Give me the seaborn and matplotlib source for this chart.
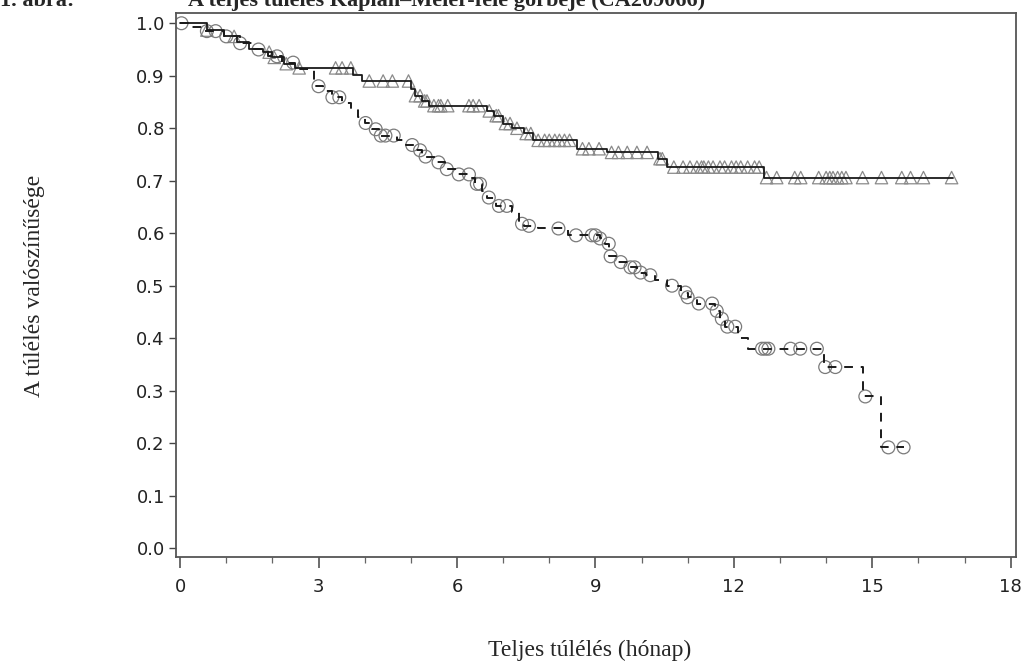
import numpy as np
import pandas as pd
import matplotlib
matplotlib.use("Agg")
import matplotlib.pyplot as plt
import seaborn as sns
from matplotlib.ticker import MultipleLocator

# upper curve (solid, triangles): step times and survival
upper_t = [0, 0.58, 0.95, 1.24, 1.5, 1.8, 2.0, 2.25, 2.5, 3.75, 3.95, 5.0, 5.1, 5.25, 5.4,
           6.65, 6.8, 7.0, 7.2, 7.45, 7.65, 8.6, 9.25, 10.35, 10.55, 12.65, 16.75]
upper_s = [1.0, 0.987, 0.975, 0.964, 0.951, 0.945, 0.935, 0.923, 0.915, 0.901, 0.89, 0.875, 0.862, 0.852, 0.843,
           0.833, 0.824, 0.809, 0.80, 0.79, 0.777, 0.761, 0.754, 0.742, 0.726, 0.706, 0.706]
upper_cens = [0.58, 1.17, 1.93, 2.04, 2.3, 2.58, 3.37, 3.51, 3.7, 4.1, 4.4, 4.6, 4.95,
              5.1, 5.2, 5.3, 5.35, 5.5, 5.6, 5.65, 5.8, 6.26, 6.35, 6.48, 6.7, 6.85, 6.9,
              7.05, 7.15, 7.3, 7.5, 7.6, 7.76, 7.9, 8.0, 8.12, 8.22, 8.33, 8.44,
              8.72, 8.86, 9.08, 9.35, 9.5, 9.69, 9.9, 10.12, 10.4, 10.45,
              10.7, 10.9, 11.05, 11.2, 11.3, 11.35, 11.45, 11.55, 11.7, 11.8, 11.95, 12.05,
              12.15, 12.3, 12.45, 12.55, 12.71, 12.93, 13.32, 13.45, 13.84, 14.0, 14.08,
              14.15, 14.25, 14.34, 14.43, 14.79, 15.2, 15.64, 15.83, 16.11, 16.72]

# lower curve (dashed, circles)
lower_t = [0, 0.2, 0.55, 0.95, 1.3, 1.6, 1.9, 2.2, 2.5, 2.9, 3.1, 3.3, 3.5, 3.7, 3.85, 4.0,
           4.15, 4.3, 4.7, 4.9, 5.1, 5.25, 5.55, 5.75, 6.0, 6.3, 6.4, 6.55, 6.65, 6.85,
           7.2, 7.35, 7.45, 7.75, 8.4, 9.1, 9.2, 9.3, 9.45, 9.7, 9.9, 10.1, 10.3, 10.55,
           10.85, 11.0, 11.2, 11.6, 11.7, 11.8, 12.1, 12.3, 13.95, 14.8, 15.2, 15.68]
lower_s = [1.0, 0.992, 0.985, 0.975, 0.962, 0.95, 0.937, 0.925, 0.912, 0.88, 0.87, 0.859, 0.848, 0.836, 0.822, 0.81,
           0.798, 0.786, 0.778, 0.768, 0.758, 0.746, 0.735, 0.722, 0.712, 0.705, 0.694, 0.68, 0.668, 0.652,
           0.64, 0.618, 0.614, 0.609, 0.596, 0.59, 0.58, 0.556, 0.545, 0.535, 0.525, 0.52, 0.51, 0.50,
           0.487, 0.478, 0.466, 0.452, 0.437, 0.422, 0.40, 0.38, 0.345, 0.289, 0.192, 0.192]
lower_cens = [0.03, 0.58, 0.77, 1.0, 1.3, 1.7, 2.1, 2.45, 3.0, 3.3, 3.45, 4.02, 4.24, 4.35, 4.45, 4.63,
              5.03, 5.2, 5.32, 5.6, 5.78, 6.04, 6.26, 6.43, 6.5, 6.69, 6.91, 7.08, 7.41, 7.56,
              8.2, 8.58, 8.92, 9.0, 9.1, 9.29, 9.33, 9.55, 9.76, 9.85, 9.98, 10.19, 10.66,
              10.95, 11.0, 11.24, 11.53, 11.63, 11.74, 11.86, 12.03, 12.61, 12.68, 12.75,
              13.23, 13.44, 13.8, 13.98, 14.2, 14.85, 15.35, 15.68]

xticks = [0, 3, 6, 9, 12, 15, 18]
yticks = [0.0, 0.1, 0.2, 0.3, 0.4, 0.5, 0.6, 0.7, 0.8, 0.9, 1.0]


def km_at(times, surv, t):
    idx = np.searchsorted(np.array(times), np.array(t), side="right") - 1
    return np.array(surv)[idx]


up = pd.DataFrame({"t": upper_t, "s": upper_s})
lo = pd.DataFrame({"t": lower_t, "s": lower_s})
up_c = pd.DataFrame({"t": upper_cens, "s": km_at(upper_t, upper_s, upper_cens)})
lo_c = pd.DataFrame({"t": lower_cens, "s": km_at(lower_t, lower_s, lower_cens)})

sns.set_theme(style="white")
plt.rcParams["font.family"] = ["DejaVu Sans"]

fig = plt.figure(figsize=(10.26, 6.64), dpi=100)
ax = fig.add_axes([0.1715, 0.161, 0.8185, 0.819])

# censor marks first, lines on top
sns.scatterplot(data=up_c, x="t", y="s", ax=ax, marker="^", s=80,
                facecolor="none", edgecolor="#8a8a8a", linewidth=0.9, zorder=2)
sns.scatterplot(data=lo_c, x="t", y="s", ax=ax, marker="o", s=85,
                facecolor="none", edgecolor="#7a7a7a", linewidth=0.9, zorder=2)
sns.lineplot(data=up, x="t", y="s", ax=ax, estimator=None, sort=False,
             drawstyle="steps-post", color="#1a1a1a", linewidth=1.3, zorder=3)
sns.lineplot(data=lo, x="t", y="s", ax=ax, estimator=None, sort=False,
             drawstyle="steps-post", color="#1a1a1a", linewidth=1.4,
             linestyle=(0, (4.5, 4)), zorder=3)

ax.set_xlim(-0.09, 18.11)
ax.set_ylim(-0.017, 1.019)
ax.set_xticks(xticks)
ax.set_yticks(yticks)
ax.set_yticklabels([f"{v:.1f}" for v in yticks])
ax.xaxis.set_minor_locator(MultipleLocator(1))
ax.tick_params(axis="x", which="major", direction="out", length=8, width=1.1,
               color="#444444", labelsize=13, labelcolor="#222222", pad=7, bottom=True)
ax.tick_params(axis="x", which="minor", direction="out", length=4, width=0.9,
               color="#666666", bottom=True)
ax.tick_params(axis="y", which="major", direction="out", length=5, width=1.0,
               color="#444444", labelsize=13, labelcolor="#222222", pad=3, left=True)
for sp in ax.spines.values():
    sp.set_color("#555555")
    sp.set_linewidth(1.3)

ax.set_xlabel("")
ax.set_ylabel("")
fig.text(0.575, 0.021, "Teljes túlélés (hónap)", family="Liberation Serif",
         fontsize=17, ha="center", va="center")
fig.text(0.034, 0.57, "A túlélés valószínűsége", family="Liberation Serif",
         fontsize=17, ha="center", va="center", rotation=90)
fig.text(0.0, 0.991, "1. ábra:", family="Liberation Serif", fontweight="bold",
         fontsize=16, ha="left", va="baseline")
fig.text(0.183, 0.991, "A teljes túlélés Kaplan–Meier-féle görbéje (CA209066)",
         family="Liberation Serif", fontweight="bold", fontsize=16,
         ha="left", va="baseline")

fig.savefig("out.png", dpi=100)
